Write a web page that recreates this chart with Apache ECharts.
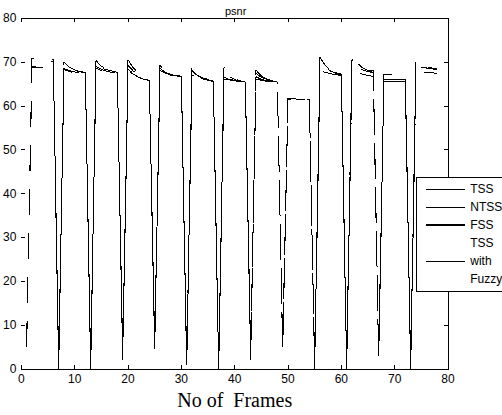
<!DOCTYPE html>
<html>
<head>
<meta charset="utf-8">
<script src="https://cdn.jsdelivr.net/npm/echarts@6/dist/echarts.min.js"></script>
<style>
  html, body { margin: 0; padding: 0; background: #fff; }
  #chart { width: 502px; height: 415px; }
  #chart svg path { shape-rendering: crispEdges; }
</style>
</head>
<body>
<div id="chart"></div>
<script>
// frame numbers 1..78; frames 1,7,13,...,73 are the scene-change drops
const frames = Array.from({ length: 78 }, (_, i) => i + 1);
const seriesNames = ['TSS', 'NTSS', 'FSS', 'TSS\nwith\nFuzzy'];

// values per group: [low frame, five frames after it]
const tss = [
  5, 70.7, 70.7, 70.6, 70.6, 70.6,
  0, 69.9, 68.8, 68.2, 67.8, 67.4,
  0, 70.3, 69.0, 68.4, 68.0, 67.5,
  2, 70.5, 68.6, 67.4, 66.3, 65.5,
  4.5, 69.2, 68.0, 67.3, 67.0, 66.7,
  0, 68.7, 67.2, 66.5, 66.0, 65.5,
  0, 68.7, 67.0, 66.2, 65.7, 65.4,
  2, 68.1, 66.8, 66.1, 65.7, 65.4,
  4, 61.7, 61.6, 61.6, 61.5, 61.5,
  0, 71.0, 69.2, 68.0, 67.4, 66.9,
  0, 71.7, 69.8, 68.6, 68.0, 67.6,
  2.2, 67.2, 67.2, 67.2, 67.2, 67.2,
  0, 70.7, 69.5, 68.9, 68.6, 68.4
];
const ntss = [
  6, 70.8, 70.3, 70.1, 70.0, 70.0,
  1, 69.0, 68.4, 68.0, 67.8, 67.6,
  0.5, 69.5, 68.6, 68.2, 67.9, 67.6,
  3, 69.2, 67.9, 67.0, 66.2, 65.6,
  5.5, 68.5, 67.6, 67.2, 66.9, 66.8,
  1, 68.0, 66.9, 66.3, 65.9, 65.6,
  0.5, 67.8, 66.6, 66.0, 65.6, 65.4,
  3, 67.4, 66.5, 66.0, 65.6, 65.4,
  5, 61.6, 61.6, 61.5, 61.5, 61.5,
  0.5, 70.2, 68.8, 67.9, 67.5, 67.2,
  1, 69.5, 68.7, 68.2, 67.8, 67.5,
  3, 66.1, 66.1, 66.1, 66.1, 66.1,
  0.5, 69.1, 68.8, 68.6, 68.4, 68.2
];
const fss = [
  5.5, 68.7, 68.7, 68.7, 68.7, 68.7,
  0.5, 68.2, 67.8, 67.5, 67.3, 67.2,
  0, 68.6, 68.0, 67.7, 67.4, 67.2,
  2.5, 68.0, 67.2, 66.5, 66.0, 65.8,
  5, 67.8, 67.3, 67.0, 66.8, 66.7,
  0.5, 67.0, 66.4, 66.0, 65.7, 65.5,
  0, 66.1, 65.9, 65.7, 65.5, 65.3,
  2.5, 66.1, 65.8, 65.6, 65.4, 65.3,
  4.5, 61.5, 61.5, 61.5, 61.5, 61.5,
  0, 68.0, 67.6, 67.3, 67.1, 66.9,
  0.5, 68.2, 67.6, 67.2, 66.9, 66.7,
  2.5, 65.5, 65.5, 65.5, 65.5, 65.5,
  0, 68.0, 67.8, 67.6, 67.5, 67.4
];
const fuzzy = [
  6.5, 68.9, 68.8, 68.8, 68.7, 68.7,
  1.5, 68.5, 68.0, 67.7, 67.4, 67.3,
  1, 69.0, 68.3, 67.9, 67.6, 67.4,
  3.5, 68.3, 67.4, 66.7, 66.1, 65.7,
  6, 68.0, 67.4, 67.1, 66.9, 66.8,
  1.5, 67.3, 66.6, 66.1, 65.8, 65.6,
  1, 66.5, 66.0, 65.8, 65.5, 65.4,
  3.5, 66.6, 66.0, 65.7, 65.5, 65.3,
  5.5, 61.6, 61.6, 61.5, 61.5, 61.5,
  1, 69.0, 68.1, 67.6, 67.3, 67.1,
  1.5, 70.5, 69.2, 68.4, 68.0, 68.0,
  3.5, 66.0, 66.0, 66.0, 66.0, 66.0,
  1, 69.6, 69.0, 68.7, 68.5, 68.3
];
const seriesValues = [tss, ntss, fss, fuzzy];
const dashOffsets = [0, 4, 2, 6];
const legendWidths = [1, 1, 2.5, 1];

const xTicks = { min: 0, max: 80, interval: 10 };
const yTicks = { min: 0, max: 80, interval: 10 };

const font = 'Liberation Sans, Arial, sans-serif';
const black = '#000';

const chart = echarts.init(document.getElementById('chart'), null, { renderer: 'svg' });

const tickInside = { show: true, inside: true, length: 4, lineStyle: { color: black, width: 1 } };

chart.setOption({
  animation: false,
  backgroundColor: '#fff',
  title: {
    text: 'psnr',
    left: 220,
    top: 0,
    textStyle: { fontFamily: font, fontSize: 11, fontWeight: 'normal', color: black }
  },
  grid: { left: 18, right: 54, top: 18, bottom: 40 },
  legend: {
    orient: 'vertical',
    left: 416,
    top: 177,
    padding: [3, 24, 3, 9],
    itemGap: 0,
    itemWidth: 39,
    itemHeight: 12,
    backgroundColor: '#fff',
    borderColor: black,
    borderWidth: 1,
    borderRadius: 0,
    itemStyle: { opacity: 0 },
    textStyle: { fontFamily: font, fontSize: 12, color: black, lineHeight: 18 },
    data: seriesNames.map((name, i) => ({
      name,
      lineStyle: { type: 'solid', width: legendWidths[i], opacity: 1 }
    }))
  },
  xAxis: [
    {
      type: 'value', position: 'bottom', ...xTicks,
      name: 'No of  Frames', nameLocation: 'middle', nameGap: 20,
      nameTextStyle: { fontFamily: 'Liberation Serif, Times New Roman, serif', fontSize: 20, color: black },
      axisLine: { show: true, lineStyle: { color: black } },
      axisTick: tickInside,
      axisLabel: { fontFamily: font, fontSize: 12, color: black, margin: 4 },
      splitLine: { show: false }
    },
    {
      type: 'value', position: 'top', ...xTicks,
      axisLine: { show: true, onZero: false, lineStyle: { color: black } },
      axisTick: tickInside,
      axisLabel: { show: false },
      splitLine: { show: false }
    }
  ],
  yAxis: [
    {
      type: 'value', position: 'left', ...yTicks,
      axisLine: { show: false },
      axisTick: tickInside,
      axisLabel: { fontFamily: font, fontSize: 12, color: black, margin: 5 },
      splitLine: { show: false }
    },
    {
      type: 'value', position: 'right', ...yTicks,
      axisLine: { show: true, onZero: false, lineStyle: { color: black } },
      axisTick: tickInside,
      axisLabel: { show: false },
      splitLine: { show: false }
    }
  ],
  series: seriesNames.map((name, i) => ({
    name,
    type: 'line',
    xAxisIndex: 0,
    yAxisIndex: 0,
    symbol: 'none',
    data: frames.map((f, j) => [f, seriesValues[i][j]]),
    lineStyle: { color: black, width: 1, type: [26, 18], dashOffset: dashOffsets[i] },
    itemStyle: { color: black },
    emphasis: { disabled: true }
  }))
});
</script>
</body>
</html>
